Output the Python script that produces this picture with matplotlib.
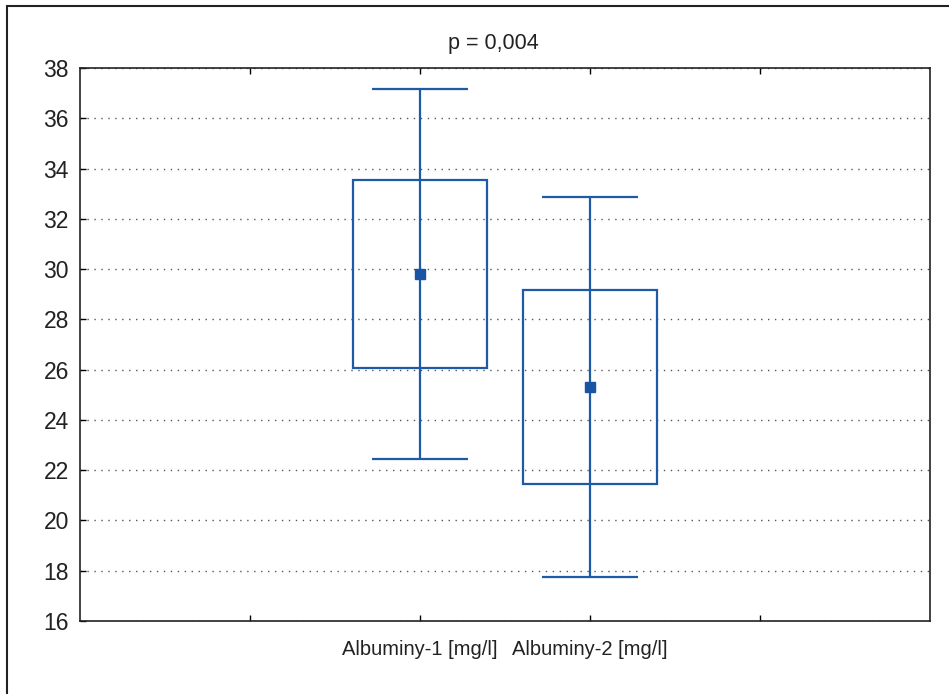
import matplotlib
matplotlib.use("Agg")
import matplotlib.pyplot as plt
from matplotlib.patches import Rectangle

plt.rcParams['font.family'] = ['Liberation Sans', 'DejaVu Sans']

# =====================
# DATA
# =====================
categories = ["Albuminy-1 [mg/l]", "Albuminy-2 [mg/l]"]
means = [29.8, 25.3]
box_low = [26.05, 21.45]
box_high = [33.55, 29.15]
whisk_low = [22.45, 17.75]
whisk_high = [37.15, 32.85]
title_text = "p = 0,004"
y_ticks = [16, 18, 20, 22, 24, 26, 28, 30, 32, 34, 36, 38]

# =====================
# STYLE
# =====================
BLUE = "#1f5aa6"
positions = [2, 3]

fig = plt.figure(figsize=(9.49, 6.94), dpi=100)
ax = fig.add_axes([80 / 949, 1 - 621 / 694, 850 / 949, 553 / 694])

# boxes
ax.bar(positions, [h - l for h, l in zip(box_high, box_low)], bottom=box_low,
       width=0.79, fill=False, edgecolor=BLUE, linewidth=1.6, zorder=3)

# whiskers + caps
ax.vlines(positions, whisk_low, whisk_high, color=BLUE, linewidth=1.6, zorder=3)
ax.hlines(whisk_low, [p - 0.28 for p in positions], [p + 0.28 for p in positions],
          color=BLUE, linewidth=1.6, zorder=3)
ax.hlines(whisk_high, [p - 0.28 for p in positions], [p + 0.28 for p in positions],
          color=BLUE, linewidth=1.6, zorder=3)

# means
ax.plot(positions, means, linestyle="none", marker="s", markersize=7,
        color="#1a55a3", zorder=4)

ax.set_xlim(0, 5)
ax.set_ylim(16, 38)
ax.set_yticks(y_ticks)
ax.set_yticklabels([str(t) for t in y_ticks], fontsize=16.5, color="#222222")
ax.set_xticks([1, 2, 3, 4])
ax.set_xticklabels(["", categories[0], categories[1], ""], fontsize=14.5,
                   color="#222222")

ax.tick_params(axis="x", direction="in", length=4, width=1, top=True,
               bottom=True, pad=14)
ax.tick_params(axis="y", direction="in", length=4, width=1, pad=8)

ax.yaxis.grid(True, linestyle=(0, (1, 4)), color="#555555", linewidth=1)
ax.set_axisbelow(True)
for s in ax.spines.values():
    s.set_linewidth(1.2)
    s.set_color("#222222")

fig.text(493 / 949, 1 - 43 / 694, title_text, ha="center", va="center",
         fontsize=15.5, color="#222222")

# outer frame (cut off at right and bottom)
frame = Rectangle((7 / 949, -0.2), 2, 1 - 6 / 694 + 0.2,
                  transform=fig.transFigure, fill=False,
                  edgecolor="#222222", linewidth=1.5)
fig.add_artist(frame)

plt.savefig("out.png", dpi=100)
